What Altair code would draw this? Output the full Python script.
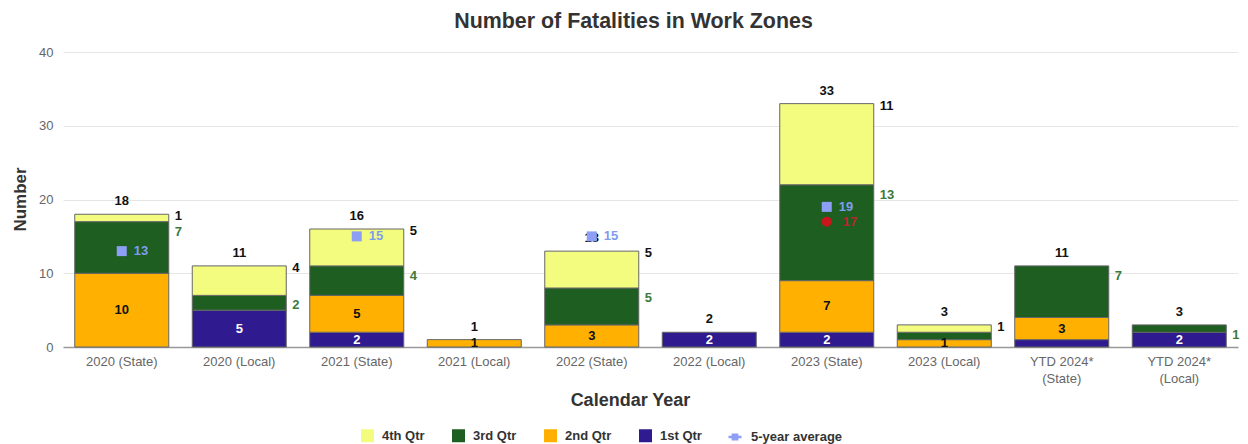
import altair as alt
import pandas as pd

# ---------------- data ----------------
categories = ["2020 (State)", "2020 (Local)", "2021 (State)", "2021 (Local)",
              "2022 (State)", "2022 (Local)", "2023 (State)", "2023 (Local)",
              "YTD 2024* (State)", "YTD 2024* (Local)"]
q1 = [0, 5, 2, 0, 0, 2, 2, 0, 1, 2]
q2 = [10, 0, 5, 1, 3, 0, 7, 1, 3, 0]
q3 = [7, 2, 4, 0, 5, 0, 13, 1, 7, 1]
q4 = [1, 4, 5, 0, 5, 0, 11, 1, 0, 0]
quarter_names = ["1st Qtr", "2nd Qtr", "3rd Qtr", "4th Qtr"]

legend_order = ["4th Qtr", "3rd Qtr", "2nd Qtr", "1st Qtr"]
legend_colors = ["#f3fc7e", "#1e5e21", "#ffb000", "#2f1a8f"]
avg_name = "5-year average"
avg_color = "#8c9ff5"

avg_categories = ["2020 (State)", "2021 (State)", "2022 (State)", "2023 (State)"]
avg_values = [13, 15, 15, 19]
red_categories = ["2023 (State)"]
red_values = [17]

hidden_labels = [("YTD 2024* (State)", "1st Qtr"), ("2023 (Local)", "3rd Qtr")]

rows = []
for i, c in enumerate(categories):
    base = 0
    vals = [q1[i], q2[i], q3[i], q4[i]]
    total = sum(vals)
    for qn, (name, v) in enumerate(zip(quarter_names, vals), start=1):
        rows.append(dict(category=c, quarter=name, qn=qn, value=v, y0=base,
                         y1=base + v, mid=base + v / 2, total=total,
                         show=bool(v > 0 and (c, name) not in hidden_labels)))
        base += v
df = pd.DataFrame(rows)
df = df[df["value"] > 0]
tot_df = pd.DataFrame({"category": categories,
                       "total": [a + b + c + d for a, b, c, d in zip(q1, q2, q3, q4)]})
avg_df = pd.DataFrame({"category": avg_categories, "value": avg_values,
                       "series": [avg_name] * len(avg_values)})
red_df = pd.DataFrame({"category": red_categories, "value": red_values})

FONT = "Liberation Sans"
XS = alt.X("category:N", sort=categories)

x_enc = alt.X("category:N", sort=categories,
              scale=alt.Scale(paddingInner=0.2, paddingOuter=0.1),
              axis=alt.Axis(title="Calendar Year", labelAngle=0, labelFont=FONT,
                            labelFontSize=13, labelColor="#666", labelPadding=8,
                            labelLineHeight=17,
                            labelExpr="indexof(datum.label, 'YTD') >= 0 ? [slice(datum.label, 0, 9), slice(datum.label, 10)] : datum.label",
                            ticks=False, domainColor="#999", domainWidth=1.5,
                            titleFont=FONT, titleFontSize=18, titleFontWeight="bold",
                            titleColor="#333", titleX=567, titleY=53,
                            titleBaseline="middle", titleAlign="center"))
y_scale = alt.Scale(domain=[0, 40], nice=False)
y_axis = alt.Axis(title="Number", values=[0, 10, 20, 30, 40], labelFont=FONT,
                  labelFontSize=13, labelColor="#666", labelPadding=10,
                  ticks=False, domain=False, gridColor="#e6e6e6",
                  titleFont=FONT, titleFontSize=17, titleFontWeight="bold",
                  titleColor="#333", titleX=-43, titleY=147,
                  titleBaseline="middle", titleAlign="center")

legend_common = dict(orient="none", direction="horizontal", title=None,
                     symbolSize=169, labelFont=FONT, labelFontSize=13,
                     labelFontWeight="bold", labelColor="#333", labelOffset=8)

color_enc = alt.Color("quarter:N",
                      scale=alt.Scale(domain=legend_order, range=legend_colors),
                      legend=alt.Legend(legendX=298, legendY=377, symbolType="square",
                                        symbolStrokeWidth=0, columnPadding=27,
                                        **legend_common))

bars = alt.Chart(df).mark_bar(stroke="#666", strokeWidth=1).encode(
    x=x_enc,
    y=alt.Y("y0:Q", scale=y_scale, axis=y_axis),
    y2="y1:Q",
    color=color_enc,
)

base = alt.Chart(df).encode(x=XS)
txt = dict(font=FONT, fontSize=13, fontWeight="bold")

in_q1 = base.transform_filter("datum.show && datum.quarter == '1st Qtr'").mark_text(
    color="white", baseline="middle", **txt).encode(y="mid:Q", text="value:Q")
in_q2 = base.transform_filter("datum.show && datum.quarter == '2nd Qtr'").mark_text(
    color="#111", baseline="middle", **txt).encode(y="mid:Q", text="value:Q")
out_q3 = base.transform_filter("datum.show && datum.quarter == '3rd Qtr'").mark_text(
    color="#3b7a3b", baseline="middle", align="left", dx=53, dy=10, **txt).encode(
    y="y1:Q", text="value:Q")
out_q4 = base.transform_filter("datum.show && datum.quarter == '4th Qtr'").mark_text(
    color="#111", baseline="middle", align="left", dx=53, dy=2, **txt).encode(
    y="y1:Q", text="value:Q")

totals = alt.Chart(tot_df).mark_text(color="#111", baseline="middle", dy=-13, **txt).encode(
    x=XS, y="total:Q", text="total:Q")

avg_pts = alt.Chart(avg_df).mark_square(size=100, opacity=1, color=avg_color).encode(
    x=XS, y="value:Q")
avg_legend = alt.Chart(avg_df).mark_point(opacity=0, filled=False, color=avg_color,
                                          strokeWidth=2.5).encode(
    x=XS, y="value:Q",
    shape=alt.Shape("series:N",
                    scale=alt.Scale(domain=[avg_name],
                                    range=["M-1,0H1M-0.33,-0.33H0.33V0.33H-0.33ZM-0.33,0H0.33"]),
                    legend=alt.Legend(legendX=664, legendY=377, symbolOpacity=1,
                                      symbolStrokeColor=avg_color,
                                      symbolStrokeWidth=2.5, **legend_common)))
avg_lbl = alt.Chart(avg_df).mark_text(color="#7f9cf0", align="left", baseline="middle",
                                      dx=12, **txt).encode(
    x=XS, y="value:Q", text="value:Q")

red_pts = alt.Chart(red_df).mark_circle(size=100, opacity=1, color="#c8161d").encode(
    x=XS, y="value:Q")
red_lbl = alt.Chart(red_df).mark_text(color="#b3282d", align="left", baseline="middle",
                                      dx=16, **txt).encode(
    x=XS, y="value:Q", text="value:Q")

chart = alt.layer(bars, in_q1, in_q2, out_q3, out_q4, totals, avg_legend, avg_pts,
                  avg_lbl, red_pts, red_lbl).properties(
    width=1175, height=295,
    title=alt.TitleParams("Number of Fatalities in Work Zones", font=FONT,
                          fontSize=21.4, fontWeight="bold", color="#333",
                          dx=-17, offset=14),
    padding={"left": 55, "top": 44, "right": 2, "bottom": 97},
    autosize=alt.AutoSizeParams(type="none"),
).configure_view(stroke=None)

chart.save("out.html", embed_options={"renderer": "svg", "actions": False})
